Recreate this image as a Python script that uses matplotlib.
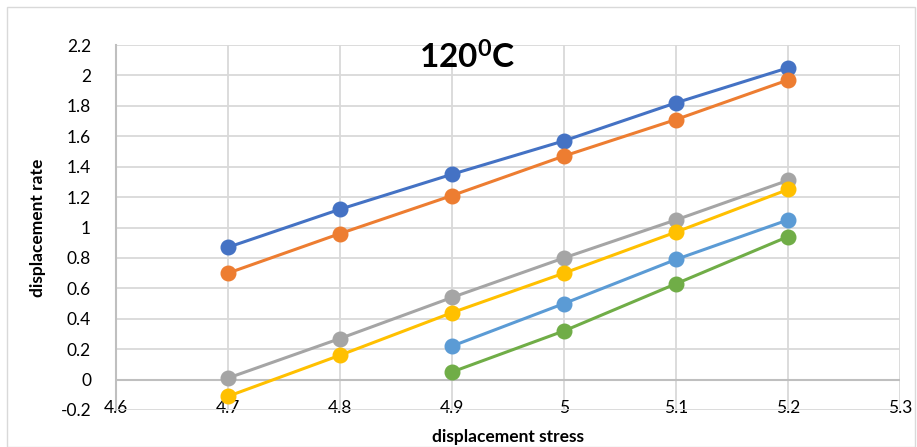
import matplotlib.pyplot as plt
from matplotlib.patches import Rectangle

x_full = [4.7, 4.8, 4.9, 5.0, 5.1, 5.2]
x_short = [4.9, 5.0, 5.1, 5.2]

blue = [0.87, 1.12, 1.35, 1.57, 1.82, 2.05]
orange = [0.70, 0.96, 1.21, 1.47, 1.71, 1.97]
gray = [0.01, 0.27, 0.54, 0.80, 1.05, 1.31]
yellow = [-0.11, 0.16, 0.44, 0.70, 0.97, 1.25]
lightblue = [0.22, 0.50, 0.79, 1.05]
green = [0.05, 0.32, 0.63, 0.94]

xticks = [4.6, 4.7, 4.8, 4.9, 5.0, 5.1, 5.2, 5.3]
xticklabels = ["4.6", "4.7", "4.8", "4.9", "5", "5.1", "5.2", "5.3"]
yticks = [-0.2, 0, 0.2, 0.4, 0.6, 0.8, 1, 1.2, 1.4, 1.6, 1.8, 2, 2.2]
yticklabels = ["-0.2", "0", "0.2", "0.4", "0.6", "0.8", "1", "1.2", "1.4", "1.6", "1.8", "2", "2.2"]

plt.rcParams['font.family'] = ['Lato', 'DejaVu Sans']
plt.rcParams['mathtext.fontset'] = 'custom'
plt.rcParams['mathtext.rm'] = 'Lato'
plt.rcParams['mathtext.bf'] = 'Lato:bold'

fig = plt.figure(figsize=(9.17, 4.47), dpi=100)
ax = fig.add_axes([0.1265, 0.0828, 0.855, 0.8165])

# chart border
fig.patches.append(Rectangle((0.008, 0.0), 0.99, 0.985, transform=fig.transFigure,
                             fill=False, edgecolor="#D9D9D9", linewidth=1))

series = [
    (x_full, blue, "#4472C4"),
    (x_full, orange, "#ED7D31"),
    (x_full, gray, "#A5A5A5"),
    (x_full, yellow, "#FFC000"),
    (x_short, lightblue, "#5B9BD5"),
    (x_short, green, "#70AD47"),
]
for xs, ys, c in series:
    ax.plot(xs, ys, color=c, linewidth=2.2, marker="o", markersize=10.5, zorder=3)

ax.set_xlim(4.6, 5.3)
ax.set_ylim(-0.2, 2.2)
ax.set_xticks(xticks)
ax.set_xticklabels(xticklabels)
ax.set_yticks(yticks)
ax.set_yticklabels(yticklabels)
ax.grid(True, color="#D9D9D9", linewidth=1.3, zorder=0)
ax.set_axisbelow(True)
ax.axhline(0, color="#BFBFBF", linewidth=1.5, zorder=1)

for s in ["top", "right", "bottom"]:
    ax.spines[s].set_visible(False)
ax.spines["left"].set_color("#BFBFBF")
ax.spines["left"].set_linewidth(1.5)

ax.tick_params(axis="both", length=0, labelsize=12.5, colors="#000000")
ax.tick_params(axis="y", pad=18)
ax.tick_params(axis="x", pad=-7)

ax.set_xlabel("displacement stress", fontsize=12.5, fontweight="bold", labelpad=9)
ax.set_ylabel("displacement rate", fontsize=12.5, fontweight="bold", labelpad=10)

ax.text(0.448, 0.965, r"$\mathbf{120^{0}C}$", transform=ax.transAxes, ha="center", va="center",
        fontsize=24)

fig.savefig("out.png", dpi=100)
